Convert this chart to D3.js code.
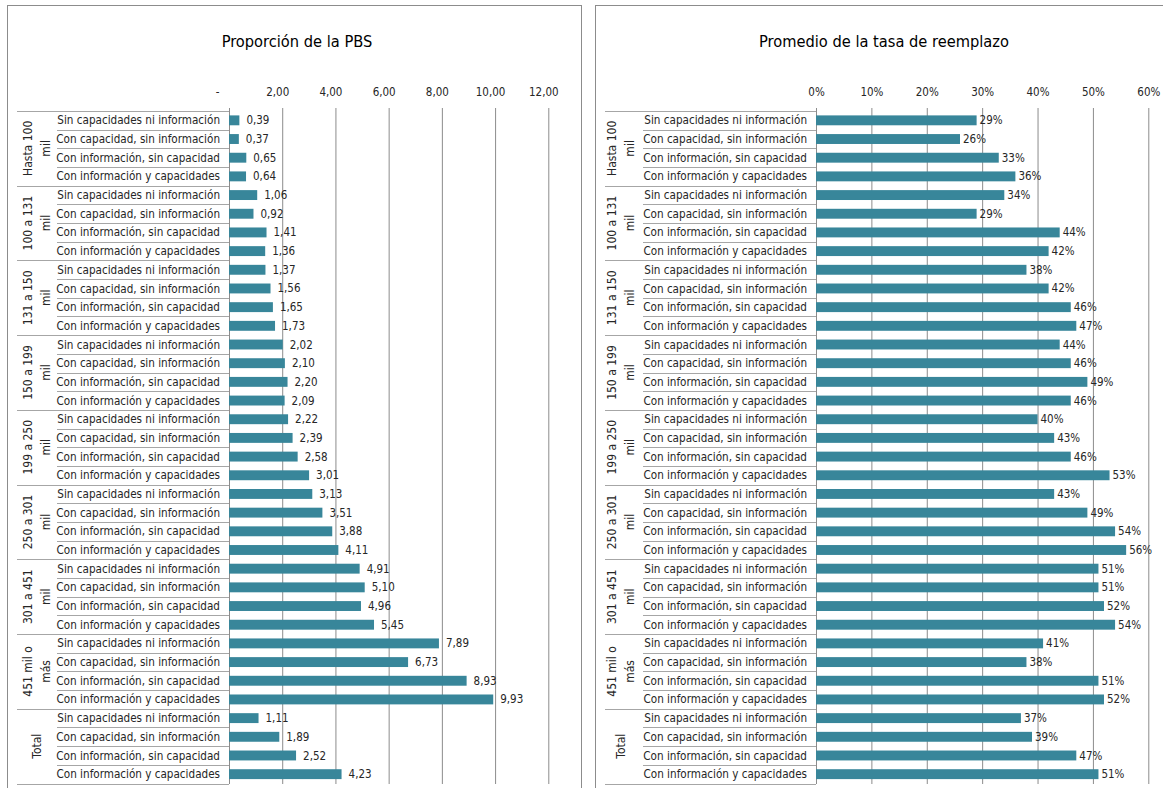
<!DOCTYPE html>
<html>
<head>
<meta charset="utf-8">
<script src="https://cdn.jsdelivr.net/npm/d3@7"></script>
<style>
  body { margin: 0; background: #fff; }
  svg { display: block; }
  text { font-family: "Liberation Sans Narrow", "DejaVu Sans Condensed", "Liberation Sans", sans-serif; fill: #262626; }
  .grid line { stroke: #8c8c8c; }
  .grid .domain { display: none; }
</style>
</head>
<body>
<svg id="chart" width="1163" height="788"></svg>
<script>
"use strict";

var groups = [
    ["Hasta 100", "mil"], ["100 a 131", "mil"], ["131 a 150", "mil"],
    ["150 a 199", "mil"], ["199 a 250", "mil"], ["250 a 301", "mil"],
    ["301 a 451", "mil"], ["451 mil o", "más"], ["Total"]
];
var categories = [
    "Sin capacidades ni información",
    "Con capacidad, sin información",
    "Con información, sin capacidad",
    "Con información y capacidades"
];
// one row per group x category, in reading order
var pbsValues = [
    0.39, 0.37, 0.65, 0.64,
    1.06, 0.92, 1.41, 1.36,
    1.37, 1.56, 1.65, 1.73,
    2.02, 2.10, 2.20, 2.09,
    2.22, 2.39, 2.58, 3.01,
    3.13, 3.51, 3.88, 4.11,
    4.91, 5.10, 4.96, 5.45,
    7.89, 6.73, 8.93, 9.93,
    1.11, 1.89, 2.52, 4.23
];
var tasaValues = [
    0.29, 0.26, 0.33, 0.36,
    0.34, 0.29, 0.44, 0.42,
    0.38, 0.42, 0.46, 0.47,
    0.44, 0.46, 0.49, 0.46,
    0.40, 0.43, 0.46, 0.53,
    0.43, 0.49, 0.54, 0.56,
    0.51, 0.51, 0.52, 0.54,
    0.41, 0.38, 0.51, 0.52,
    0.37, 0.39, 0.47, 0.51
];
var pbsTicks = [0, 2, 4, 6, 8, 10, 12];
var tasaTicks = [0, 0.1, 0.2, 0.3, 0.4, 0.5, 0.6];

var barColor = "#38869a";
var svg = d3.select("#chart");

function comma(v) { return d3.format(".2f")(v).replace(".", ","); }

function drawPanel(o) {
    var g = svg.append("g");

    g.append("rect")
        .attr("x", o.boxX + 0.5).attr("y", 5.5)
        .attr("width", o.boxW).attr("height", 820)
        .attr("fill", "none").attr("stroke", "#8c8c8c");

    g.append("text")
        .attr("x", o.titleX).attr("y", 47)
        .attr("text-anchor", "middle")
        .style("font-size", "16.3px").style("fill", "#000")
        .text(o.title);

    var x = d3.scaleLinear().domain(o.domain).range([o.x0, o.x1]);
    var rows = d3.range(groups.length * categories.length);
    var y = d3.scaleBand().domain(rows).range([111, 783.5]).paddingInner(0.47).paddingOuter(0.235);
    var step = y.step();

    var axis = d3.axisTop(x).tickValues(o.ticks)
        .tickSizeInner(-676).tickSizeOuter(0).tickPadding(12)
        .tickFormat(o.format);
    var gx = g.append("g").attr("class", "grid")
        .attr("transform", "translate(0,108)")
        .call(axis);
    gx.selectAll(".tick text")
        .style("font-size", "11.5px")
        .attr("dx", o.tickDx);

    // table lines of the two-level category axis
    d3.range(rows.length + 1).forEach(function (i) {
        var yy = Math.round(111 + i * step) + 0.5;
        g.append("line")
            .attr("x1", i % 4 === 0 ? o.groupX : o.innerX).attr("x2", o.x0)
            .attr("y1", yy).attr("y2", yy)
            .attr("stroke", "#a6a6a6");
    });

    g.selectAll(".cat").data(rows).enter().append("text")
        .attr("class", "cat")
        .attr("x", o.labelX)
        .attr("y", function (d) { return y(d) + y.bandwidth() / 2; })
        .attr("dy", "0.35em")
        .attr("text-anchor", "end")
        .style("font-size", "11.6px")
        .text(function (d) { return categories[d % 4]; });

    groups.forEach(function (lines, gi) {
        var cy = 111 + (gi * 4 + 2) * step;
        var t = g.append("text")
            .attr("transform", "translate(" + o.groupCx + "," + cy + ") rotate(-90)")
            .attr("text-anchor", "middle")
            .style("font-size", "12px");
        lines.forEach(function (s, li) {
            t.append("tspan")
                .attr("x", 0)
                .attr("y", (li - (lines.length - 1) / 2) * 17.5)
                .attr("dy", "0.35em")
                .text(s);
        });
    });

    g.selectAll(".bar").data(o.values).enter().append("rect")
        .attr("class", "bar")
        .attr("x", x(0))
        .attr("y", function (d, i) { return y(i); })
        .attr("width", function (d) { return x(d) - x(0); })
        .attr("height", y.bandwidth())
        .attr("fill", barColor);

    g.selectAll(".val").data(o.values).enter().append("text")
        .attr("class", "val")
        .attr("x", function (d) { return x(d) + o.valDx; })
        .attr("y", function (d, i) { return y(i) + y.bandwidth() / 2; })
        .attr("dy", "0.35em")
        .style("font-size", "11.5px")
        .text(o.valFormat);
}

drawPanel({
    title: "Proporción de la PBS", titleX: 297,
    boxX: 7, boxW: 574,
    domain: [0, 12], x0: 229, x1: 548.3, ticks: pbsTicks,
    format: function (d) { return d === 0 ? "-" : comma(d); },
    tickDx: function (d) { return d === 0 ? -12 : -5; },
    values: pbsValues, valFormat: comma, valDx: 7,
    groupX: 17, innerX: 57, labelX: 220, groupCx: 37
});

drawPanel({
    title: "Promedio de la tasa de reemplazo", titleX: 884,
    boxX: 595, boxW: 600,
    domain: [0, 0.6], x0: 816, x1: 1148.3, ticks: tasaTicks,
    format: d3.format(".0%"),
    tickDx: 0,
    values: tasaValues, valFormat: d3.format(".0%"), valDx: 3,
    groupX: 605, innerX: 643, labelX: 807, groupCx: 621
});
</script>
</body>
</html>
